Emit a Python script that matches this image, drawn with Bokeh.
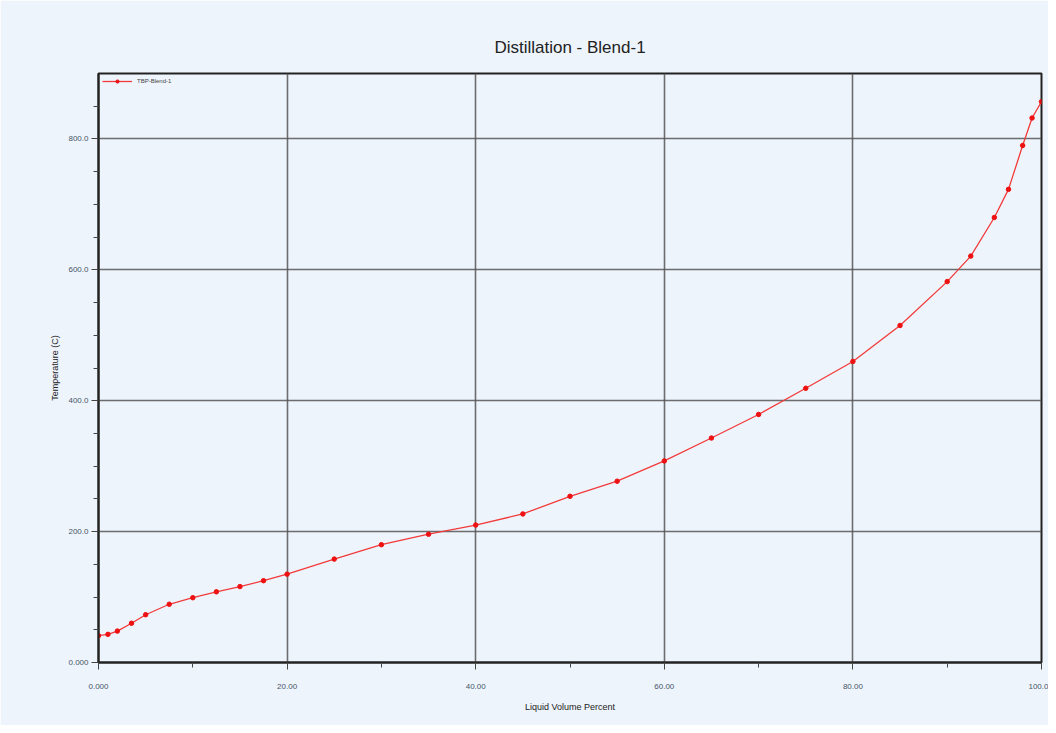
from bokeh.plotting import figure
from bokeh.models import FixedTicker, Legend, LegendItem, Label
from bokeh.embed import file_html
from bokeh.resources import INLINE

volume_pct = [0, 1, 2, 3.5, 5, 7.5, 10, 12.5, 15, 17.5, 20, 25, 30, 35, 40, 45, 50, 55,
              60, 65, 70, 75, 80, 85, 90, 92.5, 95, 96.5, 98, 99, 100]
temperature = [41, 43, 48, 60, 73, 89, 99, 108, 116, 125, 135, 158, 180, 196, 210, 227,
               254, 277, 308, 343, 379, 419, 460, 515, 582, 621, 680, 723, 790, 832, 857]

x_ticks = [0, 20, 40, 60, 80, 100]
x_labels = ["0.000", "20.00", "40.00", "60.00", "80.00", "100.0"]
y_ticks = [0, 200, 400, 600, 800]
y_labels = ["0.000", "200.0", "400.0", "600.0", "800.0"]

bg = "#eef4fc"

p = figure(width=1048, height=725, output_backend="svg", toolbar_location=None,
           x_range=(0, 100), y_range=(0, 900),
           min_border_left=98, min_border_right=7, min_border_top=73, min_border_bottom=63)
p.background_fill_color = bg
p.border_fill_color = bg
p.outline_line_color = "#222222"
p.outline_line_width = 2

p.title.text = "Distillation - Blend-1"
p.title.align = "center"
p.title.text_font = "Liberation Sans"
p.title.text_font_size = "17px"
p.title.text_font_style = "normal"
p.title.text_color = "#222222"
p.title.standoff = 33

p.xaxis.ticker = FixedTicker(ticks=x_ticks, minor_ticks=[10, 30, 50, 70, 90])
p.yaxis.ticker = FixedTicker(ticks=y_ticks, minor_ticks=[50, 100, 150, 250, 300, 350, 450, 500, 550, 650, 700, 750, 850])
p.xaxis.major_label_overrides = dict(zip(x_ticks, x_labels))
p.yaxis.major_label_overrides = dict(zip(y_ticks, y_labels))

for ax in (p.xaxis, p.yaxis):
    ax.axis_line_color = "#222222"
    ax.axis_line_width = 2
    ax.major_tick_line_color = "#444444"
    ax.minor_tick_line_color = "#444444"
    ax.major_tick_out = 7
    ax.major_tick_in = 0
    ax.minor_tick_out = 5
    ax.minor_tick_in = 0
    ax.major_label_text_font = "Liberation Sans"
    ax.major_label_text_font_size = "8px"
    ax.major_label_text_color = "#445566"
    ax.axis_label_text_font = "Liberation Sans"
    ax.axis_label_text_font_size = "9px"
    ax.axis_label_text_font_style = "normal"
    ax.axis_label_text_color = "#222222"

p.xaxis.axis_label = "Liquid Volume Percent"
p.yaxis.axis_label = "Temperature (C)"
p.xaxis.major_label_standoff = 14
p.yaxis.major_label_standoff = 3
p.xaxis.axis_label_standoff = 10
p.yaxis.axis_label_standoff = 5

p.grid.grid_line_color = "#555555"
p.grid.grid_line_alpha = 0.85
p.grid.grid_line_width = 1.6

r = p.line(volume_pct, temperature, line_color="#f23a3a", line_width=1.3)
m = p.scatter(volume_pct, temperature, size=4.5, fill_color="#ee1111", line_color="#ee1111")

legend = Legend(items=[LegendItem(label="TBP-Blend-1", renderers=[r, m])],
                location="top_left", background_fill_alpha=0, border_line_alpha=0,
                label_text_font_size="6px", label_text_font="Liberation Sans",
                glyph_width=30, glyph_height=8, label_height=8,
                margin=2, padding=2, spacing=0)
p.add_layout(legend)

p.add_layout(Label(x=637, y=-61, x_units="screen", y_units="screen",
                   text="Activer Windows", text_color="#cfcfcf", text_baseline="bottom",
                   text_font="Open Sans", text_font_size="17.5px"))

open("out.html", "w").write(file_html(p, INLINE))
